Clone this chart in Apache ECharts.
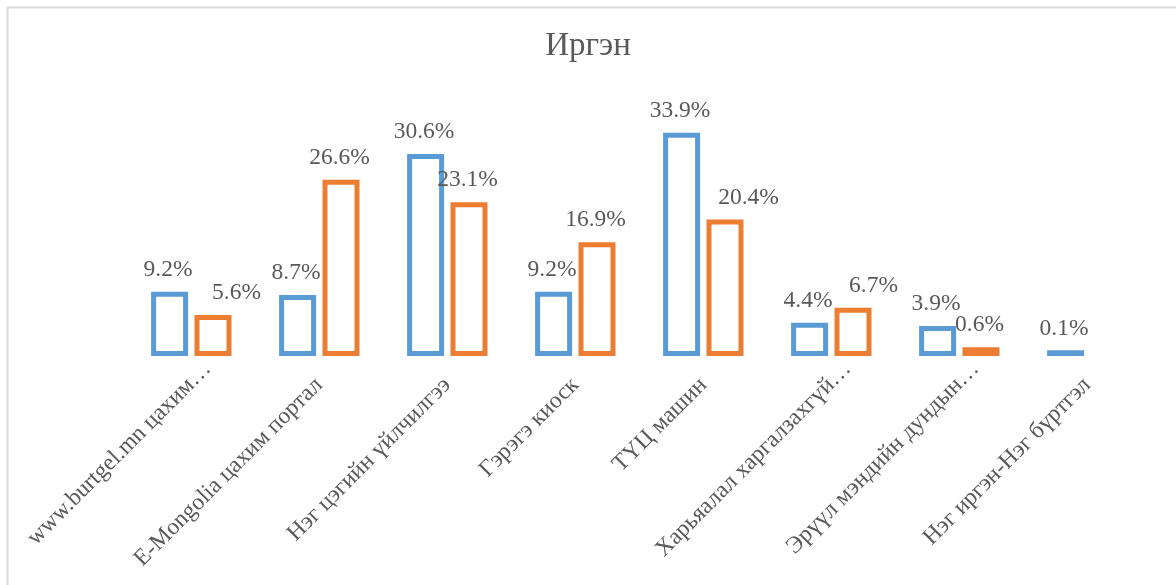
<!DOCTYPE html>
<html>
<head>
<meta charset="utf-8">
<script src="https://cdn.jsdelivr.net/npm/echarts@6/dist/echarts.min.js"></script>
<style>
html,body{margin:0;padding:0;background:#fff;}
#chart{width:1176px;height:585px;}
</style>
</head>
<body>
<div id="chart"></div>
<script>
const titleText = 'Иргэн';
const categories = [
  'www.burtgel.mn цахим…',
  'E-Mongolia цахим портал',
  'Нэг цэгийн үйлчилгээ',
  'Гэрэгэ киоск',
  'ТҮЦ машин',
  'Харьяалал харгалзахгүй…',
  'Эрүүл мэндийн дундын…',
  'Нэг иргэн-Нэг бүртгэл'
];
const seriesBlue = [9.2, 8.7, 30.6, 9.2, 33.9, 4.4, 3.9, 0.1];
const seriesOrange = [5.6, 26.6, 23.1, 16.9, 20.4, 6.7, 0.6, null];

const FONT = '"Liberation Serif", "DejaVu Serif", serif';
const TXT = '#595959';
const BLUE = '#5B9BD5';
const ORANGE = '#ED7D31';

// label nudges (px) for the data labels that were moved in the original
const orangeLabelNudge = { 0: 25, 4: 25, 5: 22 };

const chart = echarts.init(document.getElementById('chart'), null, {renderer: 'canvas'});

function toPairs(arr) {
  const out = [];
  arr.forEach((v, i) => { if (v != null) out.push([i, v]); });
  return out;
}

function makeSeries(name, values, color, offset, nudge) {
  return {
    name: name,
    type: 'custom',
    data: toPairs(values),
    encode: { x: 0, y: 1 },
    silent: true,
    renderItem: function (params, api) {
      const idx = api.value(0);
      const v = api.value(1);
      const base = api.coord([idx, 0]);
      const top = api.coord([idx, v]);
      const cx = base[0] + offset;
      const dx = (nudge && nudge[idx]) || 0;
      return {
        type: 'group',
        children: [
          {
            type: 'rect',
            shape: { x: cx - 16, y: top[1], width: 32, height: base[1] - top[1] },
            style: { fill: '#ffffff', stroke: color, lineWidth: 5 }
          },
          {
            type: 'text',
            x: cx - 1.5 + dx,
            y: top[1] - 12.5,
            style: {
              text: v.toFixed(1) + '%',
              fill: TXT,
              font: '23.5px ' + FONT,
              align: 'center',
              verticalAlign: 'bottom'
            }
          }
        ]
      };
    }
  };
}

const truncPad = { padding: [14, -23, 0, 0] };
const catData = categories.map(c => c.endsWith('…') ? { value: c, textStyle: truncPad } : c);

chart.setOption({
  animation: false,
  backgroundColor: '#ffffff',
  title: {
    text: titleText,
    left: 'center',
    top: 25,
    textStyle: { fontFamily: FONT, fontSize: 33, fontWeight: 'normal', color: TXT }
  },
  graphic: [{
    type: 'rect',
    left: 5, top: 5,
    shape: { width: 1300, height: 700 },
    style: { fill: 'none', stroke: '#d9d9d9', lineWidth: 2 },
    silent: true
  }],
  grid: { left: 127.3, width: 1024, top: 95.9, height: 257.6 },
  xAxis: {
    type: 'category',
    data: catData,
    axisLine: { show: false },
    axisTick: { show: false },
    axisLabel: {
      rotate: 45,
      margin: 28,
      interval: 0,
      color: TXT,
      fontFamily: FONT,
      fontSize: 23.5
    }
  },
  yAxis: {
    type: 'value',
    min: 0,
    max: 40,
    show: false,
    splitLine: { show: false }
  },
  series: [
    makeSeries('A', seriesBlue, BLUE, -21.7, null),
    makeSeries('B', seriesOrange, ORANGE, 21.7, orangeLabelNudge)
  ]
});
</script>
</body>
</html>
